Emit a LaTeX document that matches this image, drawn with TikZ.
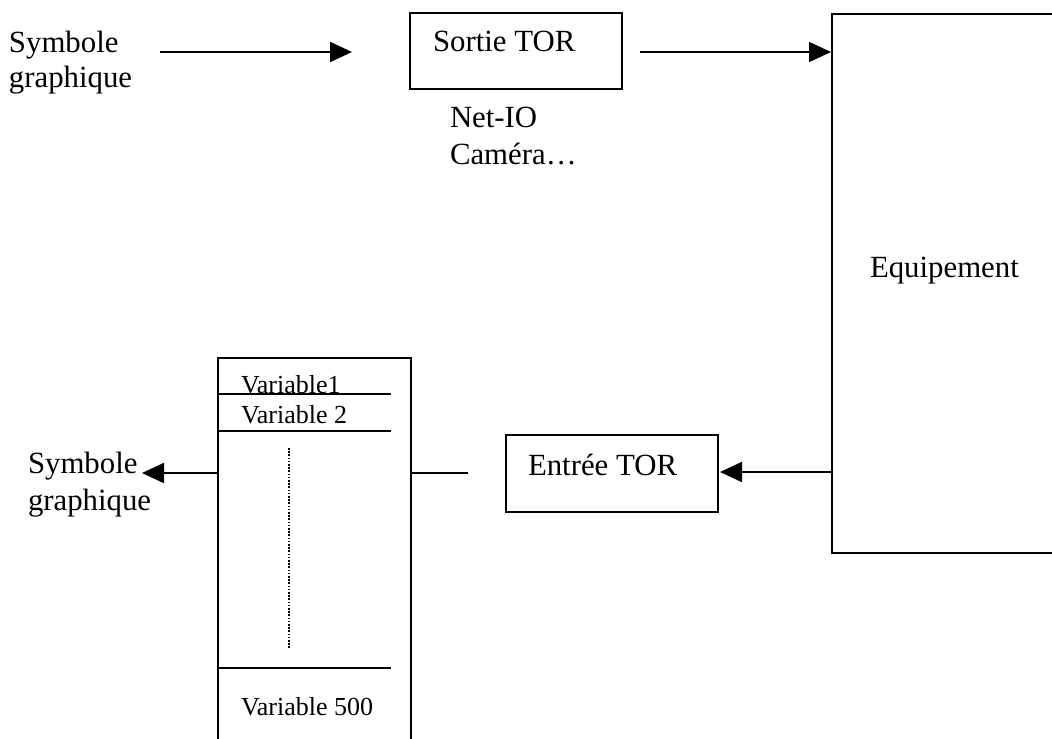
\documentclass[tikz,border=0pt]{standalone}
\usepackage{fontspec}
\setmainfont{Liberation Serif}
\usetikzlibrary{arrows.meta}
\begin{document}
\begin{tikzpicture}[x=0.5pt,y=-0.5pt,line width=1pt,
  box/.style={draw,rectangle,inner sep=0pt,line width=1pt},
  txt/.style={inner sep=0pt,anchor=base west,font=\fontsize{15.4}{17.5}\selectfont},
  small/.style={inner sep=0pt,anchor=base west,font=\fontsize{13}{15}\selectfont},
  arr/.style={-{Triangle[length=11pt,width=10pt]},line width=1pt},
  sep/.style={line width=1pt},
  dots/.style={line width=0.7pt,dash pattern=on 0.8pt off 0.8pt}]
\useasboundingbox (0,0) rectangle (1052,738);
\clip (0,0) rectangle (1052,738);
% boxes
\node[box,minimum width=106pt,minimum height=38pt] (sortie) at (516,51) {};
\node[box,minimum width=120pt,minimum height=269.5pt] (eq) at (952,283.5) {};
\node[box,minimum width=106pt,minimum height=38.5pt] (entree) at (612,473.5) {};
\node[box,minimum width=96.5pt,minimum height=201pt] (vars) at (314.5,559) {};
% texts
\node[txt] (tsortie) at (432,52) {Sortie TOR};
\node[txt] (teq) at (869,277) {Equipement};
\node[txt] (tentree) at (527,475) {Entrée TOR};
\node[txt] (net) at (449,127) {Net-IO};
\node[txt] (cam) at (449,164) {Caméra…};
\node[txt] (sym1a) at (8,53) {Symbole};
\node[txt] (sym1b) at (8,88) {graphique};
\node[txt] (sym2a) at (27,473) {Symbole};
\node[txt] (sym2b) at (27,510) {graphique};
\node[small] (v1) at (240,393) {Variable1};
\node[small] (v2) at (240,423) {Variable 2};
\node[small] (v500) at (240,715) {Variable 500};
% separators inside variable list
\draw[sep] (vars.west |- 0,394) -- (391,394);
\draw[sep] (vars.west |- 0,431) -- (391,431);
\draw[sep] (vars.west |- 0,668) -- (391,668);
\draw[dots] (289,448) -- (289,648);
% connectors
\coordinate (a1s) at (160,52);
\coordinate (a1e) at (352,52);
\draw[arr] (a1s) -- (a1e);
\coordinate (a2s) at (640,52);
\draw[arr] (a2s) -- (a2s -| eq.west);
\coordinate (a3e) at (720,472);
\draw[arr] (eq.west |- a3e) -- (a3e);
\coordinate (l4e) at (468,473);
\draw (vars.east |- l4e) -- (l4e);
\coordinate (a5e) at (142,473);
\draw[arr] (vars.west |- a5e) -- (a5e);
\end{tikzpicture}
\end{document}
